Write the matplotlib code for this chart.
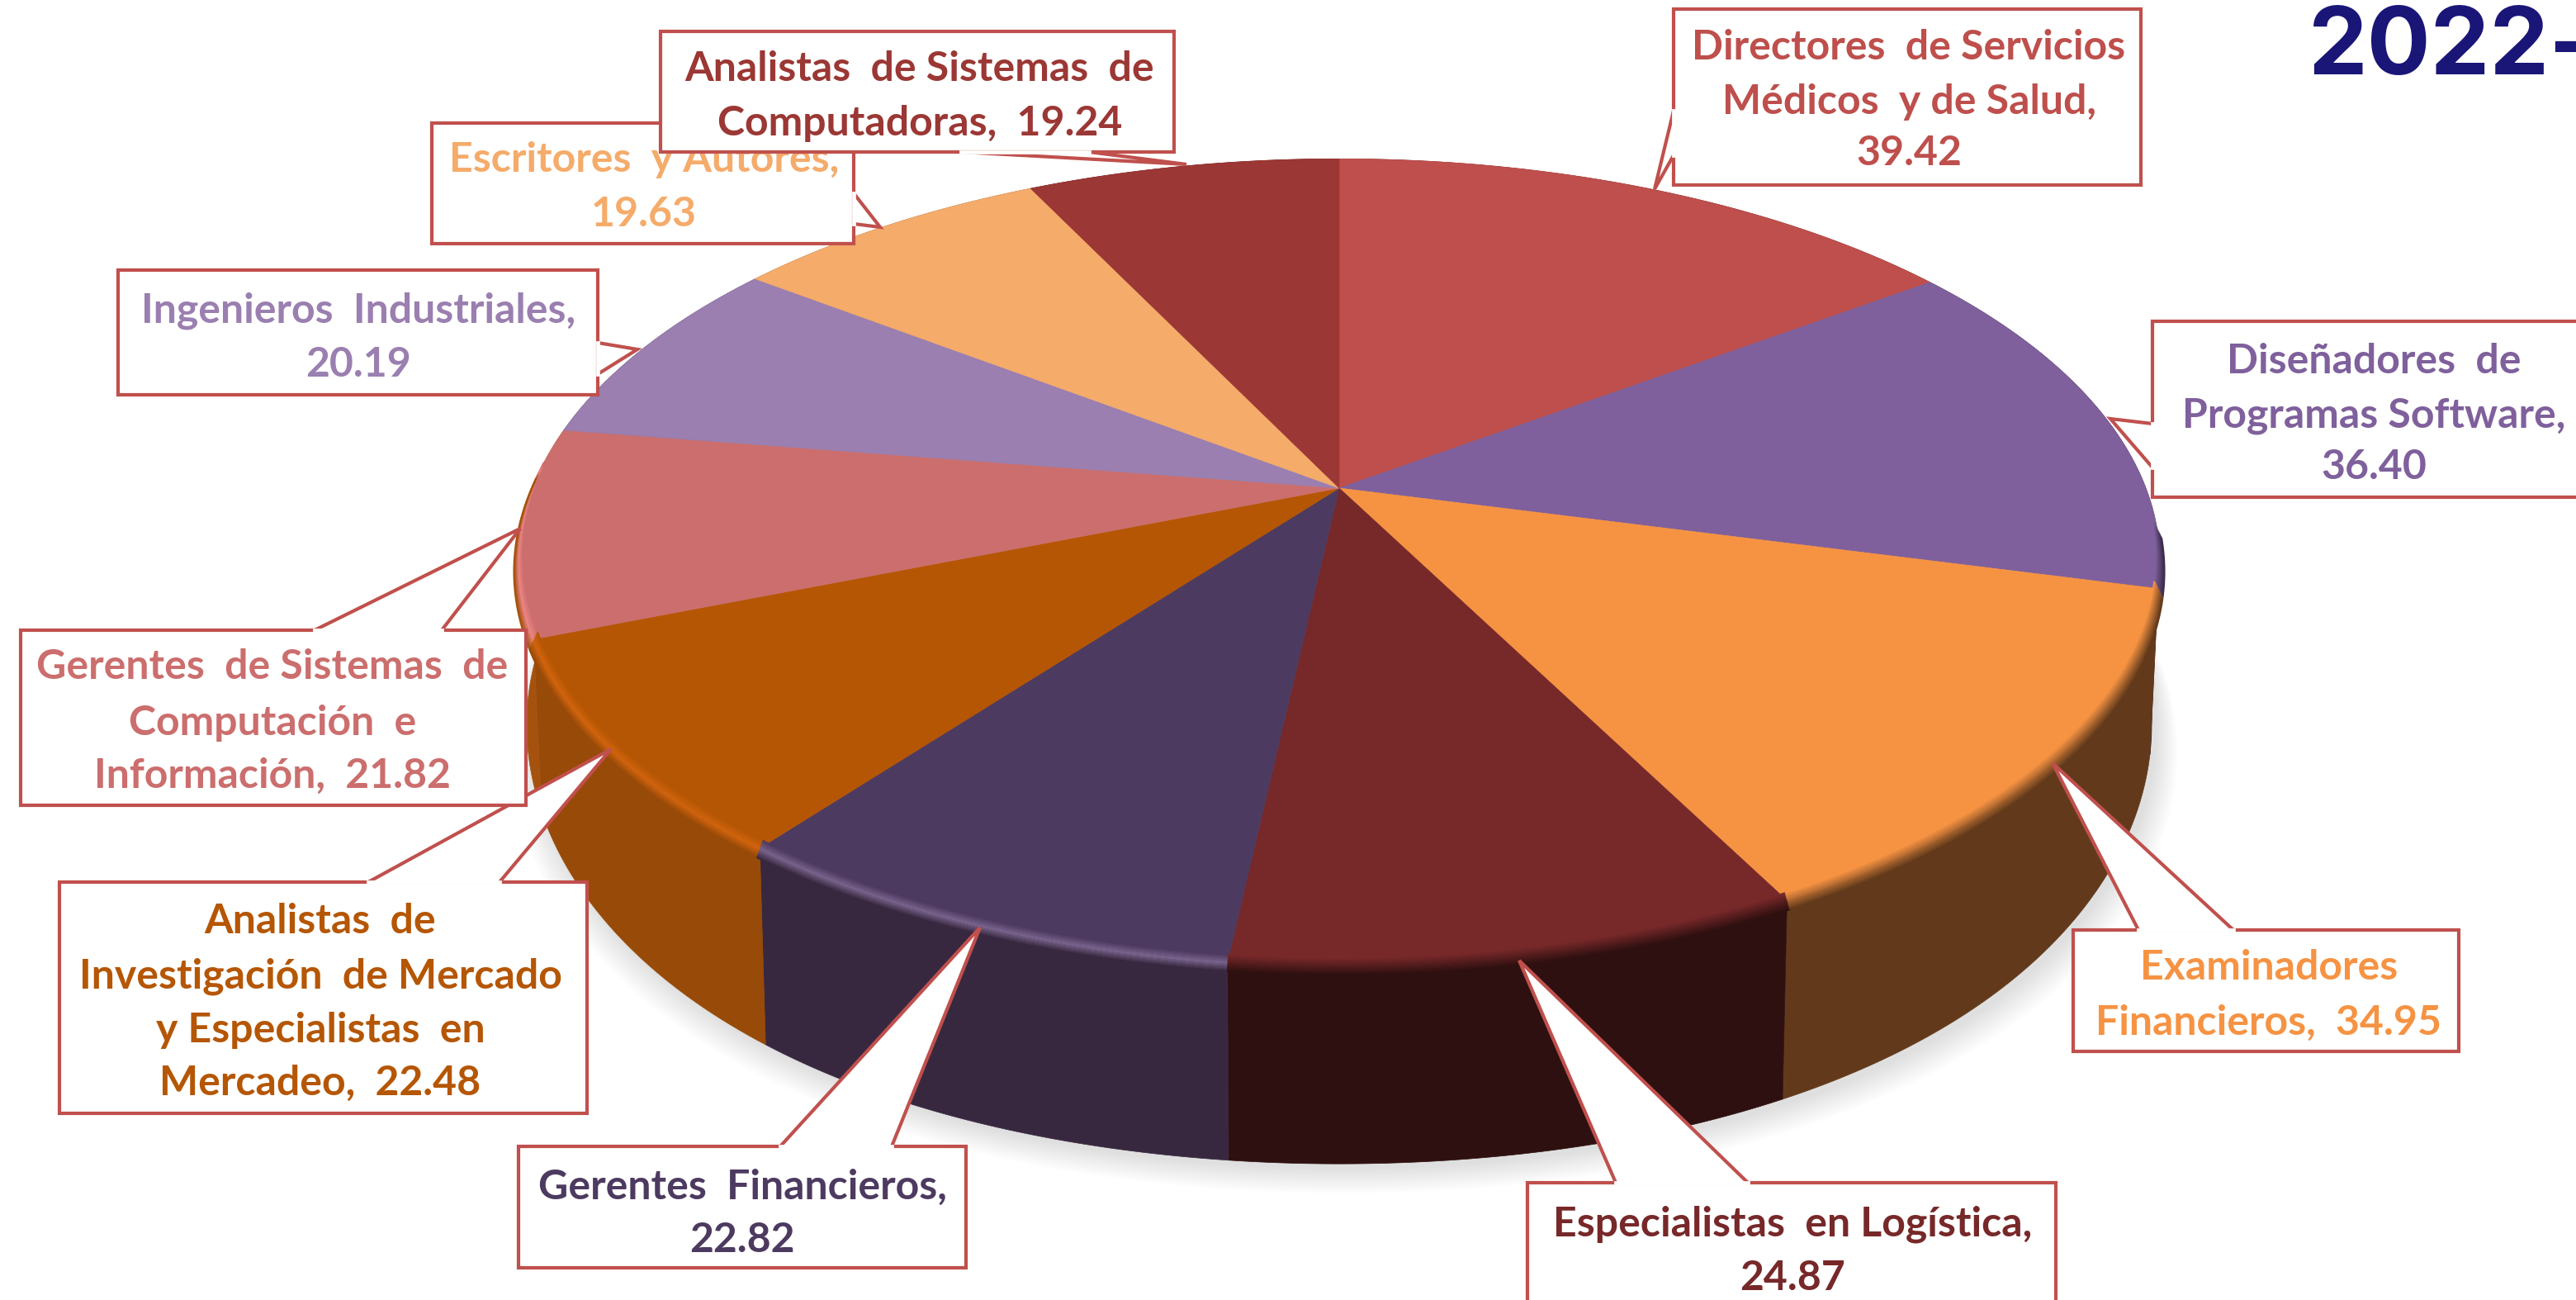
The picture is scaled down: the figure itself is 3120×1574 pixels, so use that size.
import numpy as np
import matplotlib
matplotlib.use('Agg')
import matplotlib.pyplot as plt
from matplotlib.patches import Polygon

categories = ['Directores de Servicios Médicos y de Salud', 'Diseñadores de Programas Software',
              'Examinadores Financieros', 'Especialistas en Logística', 'Gerentes Financieros',
              'Analistas de Investigación de Mercado y Especialistas en Mercadeo',
              'Gerentes de Sistemas de Computación e Información', 'Ingenieros Industriales',
              'Escritores y Autores', 'Analistas de Sistemas de Computadoras']
values = [39.42, 36.40, 34.95, 24.87, 22.82, 22.48, 21.82, 20.19, 19.63, 19.24]

# label lines as they break in the boxes, {v} is the value
label_lines = [
    ['Directores  de Servicios', 'Médicos  y de Salud,', '{v}'],
    ['Diseñadores  de', 'Programas Software,', '{v}'],
    ['Examinadores', 'Financieros,  {v}'],
    ['Especialistas  en Logística,', '{v}'],
    ['Gerentes  Financieros,', '{v}'],
    ['Analistas  de', 'Investigación  de Mercado', 'y Especialistas  en', 'Mercadeo,  {v}'],
    ['Gerentes  de Sistemas  de', 'Computación  e', 'Información,  {v}'],
    ['Ingenieros  Industriales,', '{v}'],
    ['Escritores  y Autores,', '{v}'],
    ['Analistas  de Sistemas  de', 'Computadoras,  {v}'],
]

top_colors = ['#BE4F4C', '#7F609C', '#F69343', '#772829', '#4D3A60',
              '#B55604', '#CB6E6D', '#9A7FB0', '#F5AB6A', '#9B3734']
side_colors = ['#6E2C2A', '#3C2E4E', '#623A1B', '#2F1010', '#38283F',
               '#984A08', '#A5520F', '#5A4A68', '#8A5E36', '#5A2020']
rim_colors = [None, None, None, None, '#7A648E', '#D2640E', '#EC8484', None, None, None]

# box, pointer, text layout for each label (pixels)
boxes = [(2027, 11, 2593, 224), (2607, 389, 3140, 602), (2511, 1126, 2978, 1273),
         (1850, 1432, 2490, 1600), (628, 1388, 1170, 1535), (72, 1068, 711, 1348),
         (25, 763, 637, 975), (143, 327, 724, 478), (523, 149, 1034, 295), (800, 38, 1422, 184)]
pointers = [[(2027, 134), (2004, 229), (2027, 188)], [(2607, 513), (2556, 507), (2607, 566)],
            [(2590, 1126), (2486, 924), (2705, 1126)], [(1957, 1432), (1840, 1163), (2117, 1432)],
            [(945, 1388), (1187, 1123), (1080, 1388)], [(446, 1068), (740, 907), (605, 1068)],
            [(381, 763), (630, 640), (535, 763)], [(724, 415), (772, 423), (724, 453)],
            [(1034, 234), (1066, 275), (1034, 271)], [(1164, 184), (1437, 199), (1319, 184)]]
text_x = [2312, 2875, 2748, 2171, 899, 388, 330, 434, 780, 1114]
text_y = [[58, 123, 185], [438, 503, 565], [1172, 1238], [1482, 1548], [1437, 1502],
          [1116, 1182, 1248, 1311], [808, 876, 939], [376, 442], [193, 259], [83, 149]]
EDGE = '#C0504D'

# the disc is a circle seen in perspective
cx, cy, a, b, k = 1622, 591, 977, 472, 0.184
cy2, b2, sx2 = 778, 515, 0.99


def top_xy(theta):
    u, v = np.sin(theta), np.cos(theta)
    d = 1 + k * v
    return cx + a * u / d, cy - b * v / d


def bottom_xy(theta):
    u, v = np.sin(theta), np.cos(theta)
    d = 1 + k * v
    bump = 12 * np.sin(2 * theta) ** 2 * (v < 0)
    return cx + sx2 * a * u / d, cy2 - b2 * v / d + bump


def mix(c1, c2, t):
    r1, r2 = np.array(matplotlib.colors.to_rgb(c1)), np.array(matplotlib.colors.to_rgb(c2))
    return tuple(r1 + (r2 - r1) * t)


fig = plt.figure(figsize=(31.2, 15.74), dpi=100)
ax = fig.add_axes([0, 0, 1, 1])
ax.set_xlim(0, 3120)
ax.set_ylim(1574, 0)
ax.axis('off')

# soft shadow under the disc
all_t = np.linspace(0, 2 * np.pi, 400)
sx, sy = bottom_xy(all_t)
for s in np.linspace(1, 0, 16):
    ax.add_patch(Polygon(np.c_[sx + 6 + 26 * s * np.sin(all_t), sy + 6 + 30 * s],
                         fc='black', ec='none', alpha=0.009, zorder=1))

edges = np.radians(np.cumsum([0] + values) / sum(values) * 360)

# sides first, then the tops
for i in range(len(values)):
    t = np.linspace(edges[i], edges[i + 1], 80)
    x1, y1 = top_xy(t)
    x2, y2 = bottom_xy(t)
    ax.fill(np.r_[x1, x2[::-1]], np.r_[y1, y2[::-1]], fc=side_colors[i], ec=side_colors[i], lw=0.5, zorder=2)

for i in range(len(values)):
    t = np.linspace(edges[i], edges[i + 1], 120)
    x1, y1 = top_xy(t)
    ax.fill(np.r_[cx, x1], np.r_[cy, y1], fc=top_colors[i], ec=top_colors[i], lw=0.5, zorder=3)

# blur / bevel along the front rim
for i in range(len(values)):
    t = np.linspace(edges[i], edges[i + 1], 120)
    t = t[np.cos(t) < (0.05 if rim_colors[i] else -0.1)]
    if len(t) < 2:
        continue
    x1, y1 = top_xy(t)
    for off in np.arange(-9, 12, 2):
        f = (off + 9) / 20
        if rim_colors[i] is None:
            col = mix(top_colors[i], side_colors[i], f)
        elif f < 0.5:
            col = mix(top_colors[i], rim_colors[i], f * 2)
        else:
            col = mix(rim_colors[i], side_colors[i], (f - 0.5) * 2)
        # push outwards from the centre, mostly downwards
        ax.plot(cx + (x1 - cx) * (1 + off * 0.0005), y1 + off, color=col, lw=1.6, zorder=4, solid_capstyle='butt')

# callout boxes
for i in range(len(values)):
    x0, y0, x1, y1 = boxes[i]
    p = pointers[i]
    z = 10 + i
    ax.add_patch(Polygon([(x0, y0), (x1, y0), (x1, y1), (x0, y1)], fc='white', ec=EDGE, lw=3, zorder=z, joinstyle='miter'))
    ax.add_patch(Polygon(p, closed=False, fc='white', ec=EDGE, lw=3, zorder=z, joinstyle='miter'))
    # hide the box edge under the pointer
    ax.plot([p[0][0], p[2][0]], [p[0][1], p[2][1]], color='white', lw=3.4, zorder=z)
    for line, y in zip(label_lines[i], text_y[i]):
        ax.text(text_x[i], y, line.format(v=f'{values[i]:.2f}'), color=top_colors[i], fontsize=36,
                fontfamily='Lato', fontweight='bold', ha='center', va='center', zorder=z)

ax.text(2796, 90, '2022-', color='#1A1678', fontsize=82, fontfamily='Inter', fontweight='bold',
        ha='left', va='baseline', zorder=30)

fig.savefig('out.png', dpi=100, facecolor='white')
